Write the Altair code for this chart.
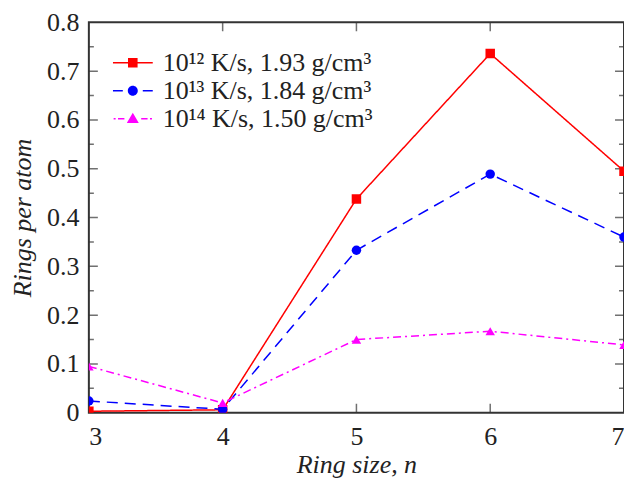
import altair as alt
import pandas as pd

ring_size = [3, 4, 5, 6, 7]
red_vals = [0.003, 0.006, 0.438, 0.736, 0.495]
blue_vals = [0.024, 0.007, 0.333, 0.489, 0.36]
magenta_vals = [0.095, 0.02, 0.15, 0.167, 0.139]
labels = ["10¹² K/s, 1.93 g/cm³", "10¹³ K/s, 1.84 g/cm³", "10¹⁴ K/s, 1.50 g/cm³"]
colors = ["#ff0000", "#0000ff", "#ff00ff"]
dashes = [[1, 0], [11, 7], [8, 4, 2, 4]]
shapes = ["square", "circle", "triangle-up"]

y_major = [0.1, 0.2, 0.3, 0.4, 0.5, 0.6, 0.7]
y_minor = [0.05, 0.15, 0.25, 0.35, 0.45, 0.55, 0.65, 0.75]
x_major = [4, 5, 6]
y_labels = [0, 0.1, 0.2, 0.3, 0.4, 0.5, 0.6, 0.7, 0.8]
x_labels = [3, 4, 5, 6, 7]

# legend symbols: line segment + marker
legend_paths = [
    "M-1,-0.04H1V0.04H-1Z M-0.24,-0.24H0.24V0.24H-0.24Z",
    "M-1,-0.04H-0.5V0.04H-1Z M0.5,-0.04H1V0.04H0.5Z "
    "M0.25,0A0.25,0.25 0 1,1 -0.25,0A0.25,0.25 0 1,1 0.25,0Z",
    "M-0.96,-0.04H-0.86V0.04H-0.96Z M-0.74,-0.04H-0.42V0.04H-0.74Z "
    "M0.42,-0.04H0.74V0.04H0.42Z M0.86,-0.04H0.96V0.04H0.86Z "
    "M0,-0.3L0.3,0.22H-0.3Z",
]

rows = []
for lab, vals in zip(labels, [red_vals, blue_vals, magenta_vals]):
    for n, v in zip(ring_size, vals):
        rows.append({"n": n, "v": v, "series": lab})
df = pd.DataFrame(rows)

FONT = "Liberation Serif"
INK = "#333333"
TXT = "#222222"
FS = 26

x_scale = alt.Scale(domain=[3, 7], nice=False, zero=False)
y_scale = alt.Scale(domain=[0, 0.8], nice=False)

x_axis = alt.Axis(
    values=x_labels, format="d", ticks=False, tickSize=0, domain=False, grid=False,
    labelFont=FONT, labelFontSize=FS, labelColor=TXT, labelPadding=11,
    title="Ring size, n", titleFont=FONT, titleFontSize=FS, titleFontStyle="italic",
    titleFontWeight="normal", titleColor=TXT, titlePadding=2,
)
y_axis = alt.Axis(
    values=y_labels, format="~g", ticks=False, tickSize=0, domain=False, grid=False,
    labelFont=FONT, labelFontSize=FS, labelColor=TXT, labelPadding=10,
    title="Rings per atom", titleFont=FONT, titleFontSize=FS, titleFontStyle="italic",
    titleFontWeight="normal", titleColor=TXT, titlePadding=11,
)

X = alt.X("n:Q", scale=x_scale, axis=x_axis)
Y = alt.Y("v:Q", scale=y_scale, axis=y_axis)

base = alt.Chart(df)

lines = base.mark_line(strokeWidth=1.5, clip=True).encode(
    x=X, y=Y,
    color=alt.Color("series:N", scale=alt.Scale(domain=labels, range=colors), legend=None),
    strokeDash=alt.StrokeDash("series:N", scale=alt.Scale(domain=labels, range=dashes), legend=None),
)

points = base.mark_point(filled=True, size=90, opacity=1, clip=True).encode(
    x=X, y=Y,
    color=alt.Color("series:N", scale=alt.Scale(domain=labels, range=colors), legend=None),
    shape=alt.Shape("series:N", scale=alt.Scale(domain=labels, range=shapes), legend=None),
)

legend_def = alt.Legend(
    title=None, orient="none", legendX=24, legendY=28,
    symbolSize=1600, symbolStrokeWidth=0, symbolOpacity=1,
    labelFont=FONT, labelFontSize=FS, labelColor=TXT, labelOffset=10, labelLimit=500,
    clipHeight=25, rowPadding=1,
)
legend_layer = base.transform_filter("false").mark_point(filled=True, opacity=1).encode(
    x=X, y=Y,
    color=alt.Color("series:N", scale=alt.Scale(domain=labels, range=colors), legend=legend_def),
    shape=alt.Shape("series:N", scale=alt.Scale(domain=labels, range=legend_paths), legend=legend_def),
)


def yticks(vals, xpos, size):
    d = pd.DataFrame({"yt": vals})
    return alt.Chart(d).mark_tick(orient="horizontal", size=size, thickness=1.5, color=INK, clip=True).encode(
        x=alt.datum(xpos, scale=x_scale), y=alt.Y("yt:Q", scale=y_scale)
    )


def xticks(vals, ypos, size):
    d = pd.DataFrame({"xt": vals})
    return alt.Chart(d).mark_tick(orient="vertical", size=size, thickness=1.5, color=INK, clip=True).encode(
        x=alt.X("xt:Q", scale=x_scale), y=alt.datum(ypos, scale=y_scale)
    )


ticks = [
    yticks(y_major, 3, 18), yticks(y_minor, 3, 10),
    yticks(y_major, 7, 18), yticks(y_minor, 7, 10),
    xticks(x_major, 0, 18), xticks(x_major, 0.8, 18),
]

chart = alt.layer(*ticks, lines, points, legend_layer).resolve_scale(
    color="independent", shape="independent", strokeDash="independent"
).properties(
    width=536, height=391,
    autosize=alt.AutoSizeParams(type="none"),
    padding={"left": 81, "top": 14, "right": 0, "bottom": 65},
    background="white",
).configure_view(stroke=INK, strokeWidth=2)

chart.save("out.html", embed_options={"renderer": "svg", "actions": False})
